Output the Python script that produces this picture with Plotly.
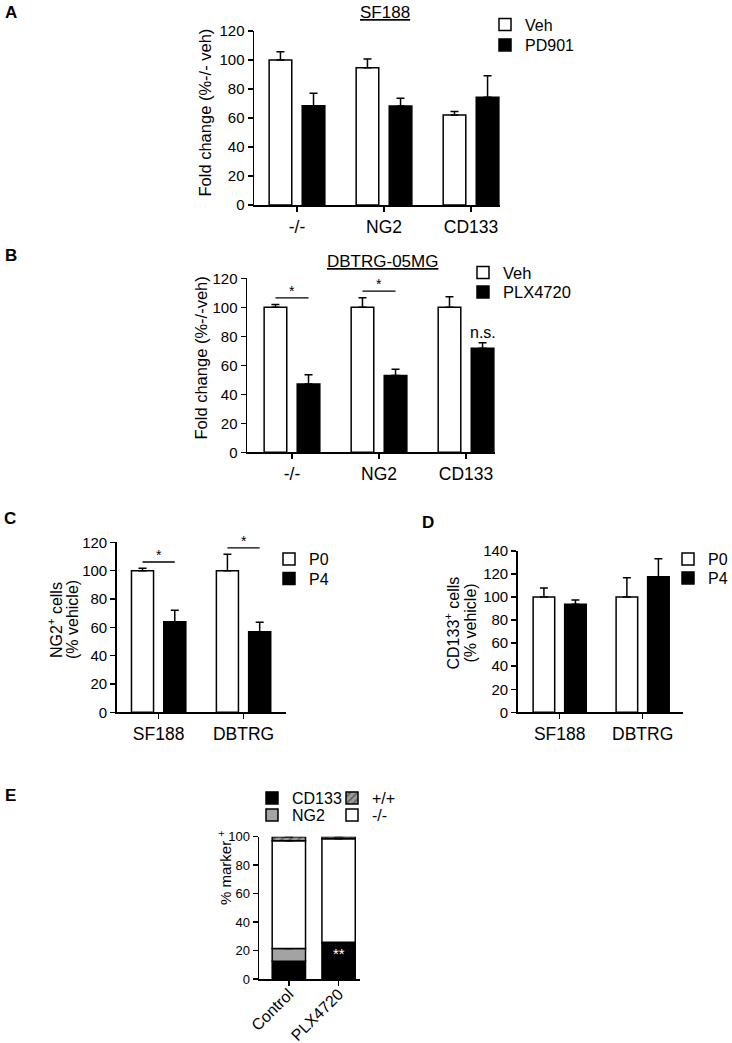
import numpy as np
import plotly.graph_objects as go

W, H = 732, 1043
FONT = "Liberation Sans, Arial, Helvetica, sans-serif"

# ---------------- data ----------------
# Panel A (SF188)
A_cats = ["-/-", "NG2", "CD133"]
A_veh = [100.0, 94.7, 62.0]
A_veh_err = [5.7, 6.0, 2.4]
A_pd901 = [68.5, 68.3, 74.3]
A_pd901_err = [8.5, 5.3, 14.9]

# Panel B (DBTRG-05MG)
B_cats = ["-/-", "NG2", "CD133"]
B_veh = [100.0, 100.0, 100.0]
B_veh_err = [2.0, 6.6, 7.3]
B_plx = [47.1, 52.9, 71.7]
B_plx_err = [6.4, 4.3, 3.9]
B_sig = ["*", "*", "n.s."]

# Panel C (NG2+ cells)
C_cats = ["SF188", "DBTRG"]
C_p0 = [100.0, 100.0]
C_p0_err = [1.6, 11.5]
C_p4 = [63.9, 56.9]
C_p4_err = [8.1, 6.6]
C_sig = ["*", "*"]

# Panel D (CD133+ cells)
D_cats = ["SF188", "DBTRG"]
D_p0 = [100.0, 100.0]
D_p0_err = [7.9, 16.8]
D_p4 = [93.7, 117.7]
D_p4_err = [3.8, 15.6]

# Panel E (stacked % marker+)
E_cats = ["Control", "PLX4720"]
E_cd133 = [12.5, 25.0]
E_cd133_err = [0.6, 1.2]
E_ng2 = [9.0, 0.8]
E_ng2_err = [3.7, 0.4]
E_neg = [75.7, 72.7]
E_neg_err = [0.0, 0.0]
E_pos = [2.8, 1.5]
E_pos_err = [1.7, 0.8]

# ---------------- helpers ----------------
def px_x(p):
    return p / W

def px_y(p):
    return 1 - p / H

def err(arr):
    return dict(type="data", array=arr, arrayminus=[0] * len(arr), symmetric=False,
                color="black", thickness=1.5, width=4)

def bar(x, y, e, name, fill, xa, ya, offset, width, legend, base=None, pattern=None):
    marker = dict(color=fill, line=dict(color="black", width=1.5))
    if pattern is not None:
        marker["pattern"] = pattern
    return go.Bar(x=x, y=y, base=base, name=name, xaxis=xa, yaxis=ya, offset=offset, width=width,
                  marker=marker, error_y=err(e), legend=legend, cliponaxis=False,
                  showlegend=True, hoverinfo="skip")

fig = go.Figure()

BW = 0.26
OFF = 0.19

# Panel A
fig.add_trace(bar(A_cats, A_veh, A_veh_err, "Veh", "white", "x", "y", -OFF - BW / 2, BW, "legend"))
fig.add_trace(bar(A_cats, A_pd901, A_pd901_err, "PD901", "black", "x", "y", OFF - BW / 2, BW, "legend2"))
# Panel B
fig.add_trace(bar(B_cats, B_veh, B_veh_err, "Veh", "white", "x2", "y2", -OFF - BW / 2, BW, "legend3"))
fig.add_trace(bar(B_cats, B_plx, B_plx_err, "PLX4720", "black", "x2", "y2", OFF - BW / 2, BW, "legend4"))
# Panel C
fig.add_trace(bar(C_cats, C_p0, C_p0_err, "P0", "white", "x3", "y3", -OFF - BW / 2, BW, "legend5"))
fig.add_trace(bar(C_cats, C_p4, C_p4_err, "P4", "black", "x3", "y3", OFF - BW / 2, BW, "legend6"))
# Panel D
fig.add_trace(bar(D_cats, D_p0, D_p0_err, "P0", "white", "x4", "y4", -OFF - BW / 2, BW, "legend7"))
fig.add_trace(bar(D_cats, D_p4, D_p4_err, "P4", "black", "x4", "y4", OFF - BW / 2, BW, "legend8"))

# Panel E stacked
EW = 0.67
stack = [E_cd133, E_ng2, E_neg, E_pos]
bases = np.vstack([np.zeros(2), np.cumsum(np.array(stack), axis=0)[:-1]])
fig.add_trace(bar(E_cats, E_cd133, E_cd133_err, "CD133", "black", "x5", "y5", -EW / 2, EW, "legend9", base=list(bases[0])))
fig.add_trace(bar(E_cats, E_ng2, E_ng2_err, "NG2", "#a3a3a3", "x5", "y5", -EW / 2, EW, "legend11", base=list(bases[1])))
fig.add_trace(bar(E_cats, E_neg, E_neg_err, "-/-", "white", "x5", "y5", -EW / 2, EW, "legend12", base=list(bases[2])))
fig.add_trace(bar(E_cats, E_pos, E_pos_err, "+/+", "#9a9a9a", "x5", "y5", -EW / 2, EW, "legend10", base=list(bases[3]),
                  pattern=dict(shape="/", fgcolor="#2a2a2a", size=6, solidity=0.35)))

# ---------------- axes ----------------
def xax(x0, x1, rng, anchor, angle=0, size=17.5, standoff=0):
    return dict(domain=[px_x(x0), px_x(x1)], range=rng, anchor=anchor, type="category",
                showline=True, linecolor="black", linewidth=1.5, ticks="outside", ticklen=5,
                tickwidth=1.5, tickcolor="black", showgrid=False, zeroline=False, tickangle=angle,
                ticklabelstandoff=standoff,
                tickfont=dict(size=size, color="black", family=FONT), fixedrange=True)

def yax(y0, y1, rng, dtick, anchor, size=15):
    return dict(domain=[px_y(y0), px_y(y1)], range=rng, anchor=anchor, dtick=dtick,
                showline=True, linecolor="black", linewidth=1.5, ticks="outside", ticklen=5,
                tickwidth=1.5, tickcolor="black", showgrid=False, zeroline=False,
                tickfont=dict(size=size, color="black", family=FONT), fixedrange=True)

layout = dict(
    width=W, height=H, margin=dict(l=0, r=0, t=0, b=0, autoexpand=False),
    paper_bgcolor="white", plot_bgcolor="rgba(0,0,0,0)",
    font=dict(family=FONT, color="black"),
    barmode="group", hovermode=False,
    xaxis=xax(254, 500, [-0.494, 2.333], "y"),
    yaxis=yax(205, 31, [0, 120], 20, "x"),
    xaxis2=xax(247, 495, [-0.517, 2.333], "y2"),
    yaxis2=yax(452.3, 278.3, [0, 120], 20, "x2"),
    xaxis3=xax(116.7, 286, [-0.494, 1.5], "y3"),
    yaxis3=yax(712.3, 542.3, [0, 120], 20, "x3"),
    xaxis4=xax(517.7, 683.3, [-0.506, 1.49], "y4"),
    yaxis4=yax(712.3, 551, [0, 140], 20, "x4"),
    xaxis5=xax(259, 360, [-0.6, 1.43], "y5", angle=-45, size=16, standoff=-7),
    yaxis5=yax(979, 836.7, [0, 100], 20, "x5", size=13),
)

# legends: one entry each, positioned by text start / row centre (page pixels)
legend_spec = [
    ("legend", 525, 24.5, 16), ("legend2", 525, 45, 16),
    ("legend3", 503, 272.7, 16.5), ("legend4", 503, 292.3, 16.5),
    ("legend5", 309, 559, 16), ("legend6", 309, 578.6, 16),
    ("legend7", 708, 559, 16), ("legend8", 708, 578, 16),
    ("legend9", 292, 798, 16), ("legend10", 372, 798, 16),
    ("legend11", 292, 815, 16), ("legend12", 372, 815, 16),
]
for key, tx, ty, fs in legend_spec:
    layout[key] = dict(x=px_x(tx - 40), y=px_y(ty), xanchor="left", yanchor="middle",
                       bgcolor="rgba(0,0,0,0)", borderwidth=0,
                       font=dict(size=fs, color="black", family=FONT))

fig.update_layout(**layout)

# ---------------- annotations ----------------
ann = []

def paper_text(text, x, y, size, angle=0, color="black"):
    ann.append(dict(text=text, x=px_x(x), y=px_y(y), xref="paper", yref="paper", showarrow=False,
                    textangle=angle, font=dict(size=size, color=color, family=FONT),
                    xanchor="center", yanchor="middle"))

for letter, x, y in [("A", 11, 13), ("B", 11, 255), ("C", 10, 518), ("D", 428, 522), ("E", 10, 795)]:
    paper_text("<b>%s</b>" % letter, x, y, 17)
paper_text("<u>SF188</u>", 385, 13, 17)
paper_text("<u>DBTRG-05MG</u>", 382, 261, 17)

# y-axis titles
paper_text("Fold change (%-/- veh)", 205, 112.5, 16.5, angle=-90)
paper_text("Fold change (%-/-veh)", 200, 358.5, 16.5, angle=-90)
paper_text("NG2<sup>+</sup> cells", 55, 620, 16, angle=-90)
paper_text("(% vehicle)", 72, 620, 16, angle=-90)
paper_text("CD133<sup>+</sup> cells", 452, 623.5, 16, angle=-90)
paper_text("(% vehicle)", 470, 623.5, 16, angle=-90)
paper_text("% marker <sup>+</sup>", 224, 868, 15, angle=-90)

shapes = []

def sig(ax, ay, i, top_a, top_b, label):
    ly = max(top_a, top_b) + 4.5
    shapes.append(dict(type="line", xref=ax, yref=ay, x0=i - OFF, x1=i + OFF, y0=ly, y1=ly,
                       line=dict(color="black", width=1.3)))
    ann.append(dict(text=label, x=i, y=ly, xref=ax, yref=ay, showarrow=False,
                    font=dict(size=14), xanchor="center", yanchor="bottom", yshift=-3))

for i in range(3):
    if B_sig[i] == "*":
        sig("x2", "y2", i, B_veh[i] + B_veh_err[i], B_plx[i] + B_plx_err[i], "*")
    else:
        ann.append(dict(text=B_sig[i], x=i + OFF, y=B_plx[i] + B_plx_err[i], xref="x2", yref="y2",
                        showarrow=False, font=dict(size=16), xanchor="center", yanchor="bottom", yshift=0))
for i in range(2):
    sig("x3", "y3", i, C_p0[i] + C_p0_err[i], C_p4[i] + C_p4_err[i], C_sig[i])

# ** on PLX4720 CD133 segment
ann.append(dict(text="**", x=1, y=E_cd133[1] * 0.72, xref="x5", yref="y5", showarrow=False,
                font=dict(size=15, color="white"), xanchor="center", yanchor="middle"))

fig.update_layout(annotations=ann, shapes=shapes)

# remove the browser's default 8px body margin so the figure fills the window exactly
fig.write_html("out.html", config={"displayModeBar": False, "staticPlot": True},
               post_script="document.body.style.margin='0px';document.body.style.padding='0px';")
